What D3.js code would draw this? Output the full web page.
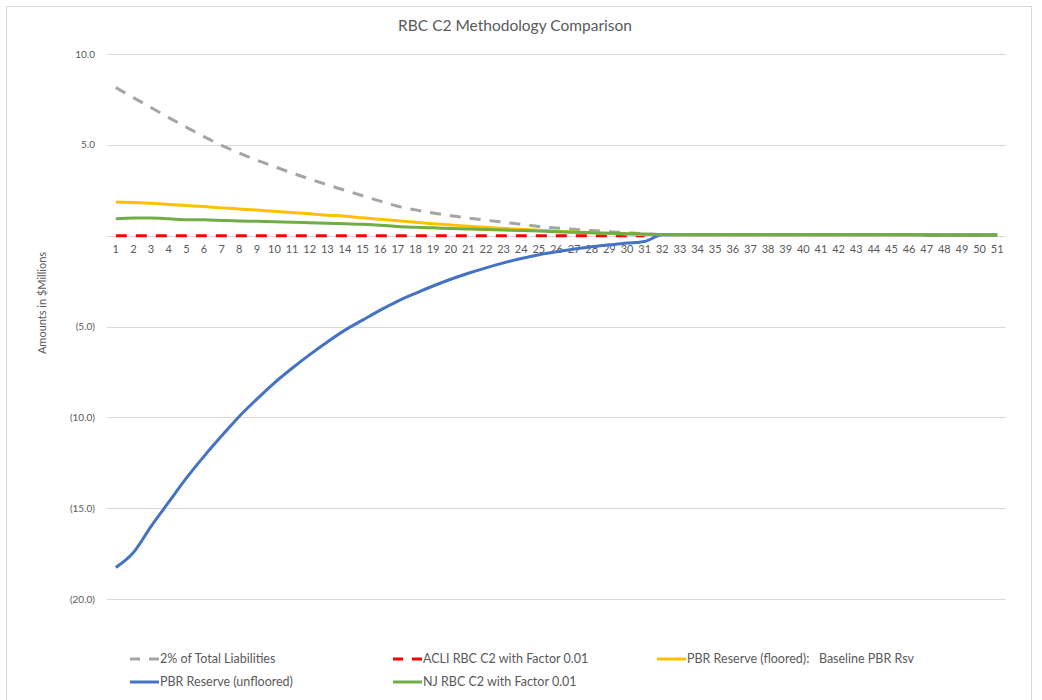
<!DOCTYPE html>
<html>
<head>
<meta charset="utf-8">
<script src="https://cdnjs.cloudflare.com/ajax/libs/d3/7.8.5/d3.min.js"></script>
<style>
body { margin: 0; background: #fff; }
#chart { width: 1042px; height: 700px; }
text { font-family: Lato, "Liberation Sans", sans-serif; fill: #595959; }
</style>
</head>
<body>
<div id="chart"></div>
<script>
// projection years
var years = d3.range(1, 52);

// values in $ millions
var totalLiab2pct = [8.15, 7.6, 7.05, 6.5, 5.97, 5.45, 4.97, 4.55, 4.15, 3.8, 3.45, 3.12, 2.8, 2.5, 2.2, 1.9, 1.62, 1.42, 1.25, 1.1,
    0.97, 0.85, 0.74, 0.62, 0.51, 0.42, 0.35, 0.28, 0.22, 0.16, 0.1, 0.06, 0.05, 0.05, 0.05, 0.05, 0.05, 0.05, 0.05, 0.05,
    0.05, 0.05, 0.05, 0.05, 0.05, 0.05, 0.04, 0.04, 0.04, 0.04, 0.04];
var acliC2 = [0, 0, 0, 0, 0, 0, 0, 0, 0, 0, 0, 0, 0, 0, 0, 0, 0, 0, 0, 0,
    0, 0, 0, 0, 0, 0, 0, 0, 0, 0, 0];
var pbrFloored = [1.85, 1.82, 1.78, 1.72, 1.66, 1.6, 1.53, 1.47, 1.41, 1.34, 1.27, 1.2, 1.13, 1.07, 0.98, 0.9, 0.82, 0.74, 0.66, 0.59,
    0.52, 0.46, 0.4, 0.35, 0.3, 0.25, 0.2, 0.16, 0.12, 0.09, 0.06, 0.05, 0.05, 0.05, 0.05, 0.05, 0.05, 0.05, 0.05, 0.05,
    0.05, 0.05, 0.05, 0.05, 0.05, 0.05, 0.04, 0.04, 0.04, 0.04, 0.04];
var pbrUnfloored = [-18.26, -17.44, -16.0, -14.67, -13.35, -12.15, -11.03, -9.95, -9.0, -8.1, -7.3, -6.55, -5.85, -5.2, -4.65, -4.1, -3.6, -3.17, -2.77, -2.4,
    -2.07, -1.77, -1.5, -1.26, -1.05, -0.88, -0.74, -0.61, -0.5, -0.41, -0.32, 0.05, 0.05, 0.05, 0.05, 0.05, 0.05, 0.05, 0.05, 0.05,
    0.05, 0.05, 0.05, 0.05, 0.05, 0.05, 0.04, 0.04, 0.04, 0.04, 0.04];
var njC2 = [0.93, 0.97, 0.97, 0.93, 0.88, 0.87, 0.84, 0.81, 0.79, 0.76, 0.74, 0.71, 0.68, 0.66, 0.63, 0.58, 0.5, 0.46, 0.43, 0.4,
    0.37, 0.34, 0.31, 0.28, 0.25, 0.22, 0.19, 0.16, 0.13, 0.11, 0.09, 0.07, 0.07, 0.06, 0.06, 0.06, 0.06, 0.06, 0.06, 0.06,
    0.06, 0.06, 0.06, 0.06, 0.06, 0.07, 0.05, 0.04, 0.04, 0.04, 0.04];

var yTicks = [10, 5, 0, -5, -10, -15, -20];

var series = [
    {name: "2% of Total Liabilities", values: totalLiab2pct, color: "#a5a5a5", dash: "11,9"},
    {name: "ACLI RBC C2 with Factor 0.01", values: acliC2, color: "#ff0000", dash: "11,9"},
    {name: "PBR Reserve (floored):   Baseline PBR Rsv", values: pbrFloored, color: "#ffc000", dash: null},
    {name: "PBR Reserve (unfloored)", values: pbrUnfloored, color: "#4472c4", dash: null},
    {name: "NJ RBC C2 with Factor 0.01", values: njC2, color: "#70ad47", dash: null}
];

var svgWidth = 1042, svgHeight = 700;

var svg = d3.select('#chart').append('svg')
    .attr('width', svgWidth)
    .attr('height', svgHeight);

// chart frame
svg.append('rect')
    .attr('x', 6.5).attr('y', 6.5)
    .attr('width', 1025).attr('height', 720)
    .attr('fill', 'none')
    .attr('stroke', '#d9d9d9');

var x = d3.scalePoint()
    .domain(years)
    .range([107, 1006])
    .padding(0.5);

var y = d3.scaleLinear()
    .domain([-20, 10])
    .range([599, 54]);

// gridlines
svg.append('g')
    .selectAll('line')
    .data(yTicks)
    .enter().append('line')
    .attr('x1', 107).attr('x2', 1006)
    .attr('y1', function (d) { return Math.round(y(d)) + 0.5; })
    .attr('y2', function (d) { return Math.round(y(d)) + 0.5; })
    .attr('stroke', '#d9d9d9')
    .attr('stroke-width', 1);

// y tick labels
svg.append('g')
    .selectAll('text')
    .data(yTicks.filter(function (d) { return d !== 0; }))
    .enter().append('text')
    .attr('x', 95)
    .attr('y', function (d) { return y(d); })
    .attr('dy', '0.35em')
    .attr('text-anchor', 'end')
    .style('font-size', '10px')
    .text(function (d) {
        var s = Math.abs(d).toFixed(1);
        return d < 0 ? '(' + s + ')' : s;
    });

// x tick labels sit just under the zero line
svg.append('g')
    .selectAll('text')
    .data(years)
    .enter().append('text')
    .attr('x', function (d) { return x(d); })
    .attr('y', y(0) + 13)
    .attr('dy', '0.35em')
    .attr('text-anchor', 'middle')
    .style('font-size', '11px')
    .text(function (d) { return d; });

var line = d3.line()
    .defined(function (d) { return d != null; })
    .x(function (d, i) { return x(years[i]); })
    .y(function (d) { return y(d); })
    .curve(d3.curveMonotoneX);

svg.append('g')
    .selectAll('path')
    .data(series)
    .enter().append('path')
    .attr('d', function (d) { return line(d.values); })
    .attr('fill', 'none')
    .attr('stroke', function (d) { return d.color; })
    .attr('stroke-width', 3)
    .attr('stroke-dasharray', function (d) { return d.dash; })
    .attr('stroke-linejoin', 'round');

// title
svg.append('text')
    .attr('x', 515)
    .attr('y', 26)
    .attr('dy', '0.35em')
    .attr('text-anchor', 'middle')
    .style('font-size', '15.5px')
    .text('RBC C2 Methodology Comparison');

// y axis title
svg.append('text')
    .attr('transform', 'translate(42,303) rotate(-90)')
    .attr('dy', '0.35em')
    .attr('text-anchor', 'middle')
    .style('font-size', '11px')
    .text('Amounts in $Millions');

// legend
var legendPos = [[130, 659], [393, 659], [657, 659], [130, 682], [393, 682]];
var legend = svg.append('g')
    .selectAll('g')
    .data(series)
    .enter().append('g')
    .attr('transform', function (d, i) {
        return 'translate(' + legendPos[i][0] + ',' + legendPos[i][1] + ')';
    });

legend.append('line')
    .attr('x1', 0).attr('x2', 29)
    .attr('y1', 0).attr('y2', 0)
    .attr('stroke', function (d) { return d.color; })
    .attr('stroke-width', 3)
    .attr('stroke-dasharray', function (d) { return d.dash ? '10,9' : null; });

legend.append('text')
    .attr('x', 30)
    .attr('y', 0)
    .attr('dy', '0.35em')
    .style('font-size', '12.5px')
    .style('white-space', 'pre')
    .text(function (d) { return d.name; });
</script>
</body>
</html>
